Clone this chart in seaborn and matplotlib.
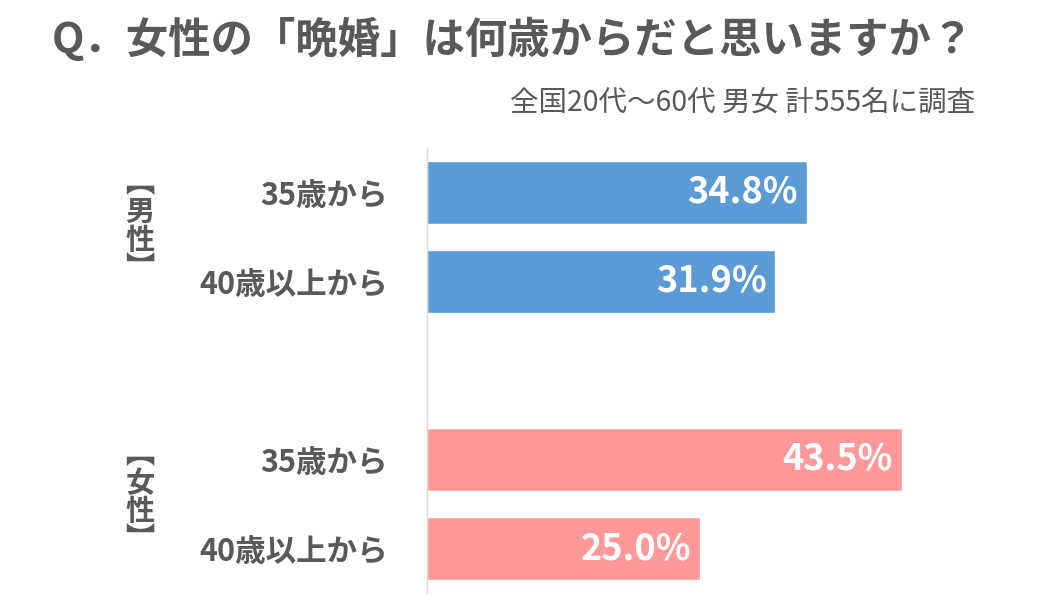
import matplotlib
matplotlib.use("Agg")
import matplotlib.pyplot as plt
import seaborn as sns
import pandas as pd

categories = ["35歳から", "40歳以上から", "35歳から", "40歳以上から"]
groups = ["男性", "男性", "女性", "女性"]
values = [34.8, 31.9, 43.5, 25.0]
positions = [0, 1, 3, 4]
palette = {"男性": "#5B9BD5", "女性": "#FF9999"}

sns.set_theme(style="white")
plt.rcParams['font.family'] = ['Noto Sans CJK JP', 'DejaVu Sans']
grey = "#595959"

df = pd.DataFrame({"cat": categories, "group": groups, "value": values, "pos": positions})

fig = plt.figure(figsize=(10.42, 6.07), dpi=100)
ax = fig.add_axes([427/1042, 14/607, (1000-427)/1042, 445/607])
for _, r in df.iterrows():
    ax.barh(r["pos"], r["value"], height=0.7, color=palette[r["group"]])
    ax.text(r["value"] - 0.8, r["pos"], f"{r['value']:.1f}%", ha="right", va="center",
            color="white", fontsize=26, fontweight="bold")
ax.set_xlim(0, 52.5)
ax.set_ylim(4.5, -0.5)
ax.set_yticks(positions)
ax.set_yticklabels(categories, fontsize=22, fontweight="bold", color=grey)
ax.tick_params(axis="y", length=0, pad=28)
ax.set_xticks([])
for s in ["top", "right", "bottom"]:
    ax.spines[s].set_visible(False)
ax.spines["left"].set_color("#D9D9D9")
ax.spines["left"].set_linewidth(1)

fig.text(513/1042, 1 - 40/607, "Q．女性の「晩婚」は何歳からだと思いますか？", ha="center", va="center",
         fontsize=30.5, fontweight="bold", color=grey)
fig.text(975/1042, 1 - 103/607, "全国20代〜60代 男女 計555名に調査", ha="right", va="center",
         fontsize=20.5, color=grey)
for g, yc in [("男性", 226), ("女性", 497)]:
    fig.text(140/1042, 1 - yc/607, "︻\n" + g[0] + "\n" + g[1] + "\n︼", ha="center", va="center",
             fontsize=21, fontweight="bold", color=grey, linespacing=0.95)

fig.savefig("out.png", dpi=100)
